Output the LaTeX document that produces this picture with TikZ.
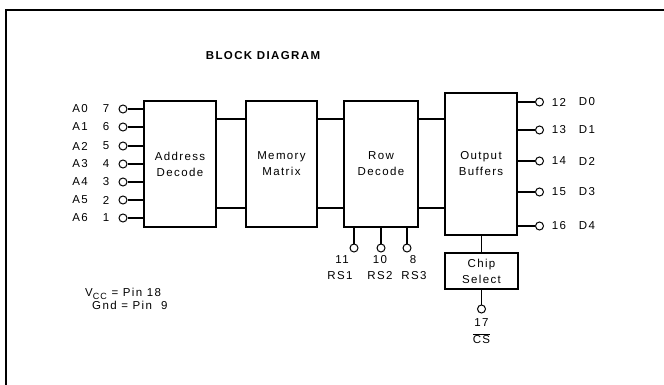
\documentclass[tikz,border=0pt]{standalone}
\usepackage{fontspec}
\setmainfont[LetterSpace=12]{Liberation Sans}
\begin{document}
\begin{tikzpicture}[x=1pt,y=-1pt]
\tikzset{
  txt/.style={font=\fontsize{11.5}{16}\selectfont},
  blk/.style={draw,line width=1.1pt,inner sep=0pt,align=center,txt},
  pinc/.style={circle,draw,line width=1pt,inner sep=0pt,minimum size=8pt},
  wire/.style={line width=1.1pt},
  lab/.style={inner sep=0pt,txt},
  frame/.style={line width=1.8pt}
}
\useasboundingbox (0,0) rectangle (664,385);
% frame
\coordinate (f0) at (5,10);
\coordinate (f1) at (664,10);
\coordinate (f2) at (6,10);
\coordinate (f3) at (6,385);
\draw[frame] (f0) -- (f1);
\draw[frame] (f2) -- (f3);
% title
\node[inner sep=0pt,font=\bfseries\fontsize{11.5}{14}\selectfont] (title) at (263,56) {BLOCK DIAGRAM};
% blocks
\node[blk,minimum width=72pt,minimum height=126pt] (addr) at (180,164) {Address\\Decode};
\node[blk,minimum width=71pt,minimum height=126pt] (mem) at (281.5,164) {Memory\\Matrix};
\node[blk,minimum width=74pt,minimum height=126pt] (row) at (381,164) {Row\\Decode};
\node[blk,minimum width=72pt,minimum height=142pt] (out) at (481,164) {Output\\Buffers};
\node[blk,minimum width=73pt,minimum height=36pt] (cs) at (481.5,271) {Chip\\Select};
% bus lines
\coordinate (u) at (0,119);
\coordinate (l) at (0,208);
\draw[wire] (addr.east |- u) -- (mem.west |- u);
\draw[wire] (addr.east |- l) -- (mem.west |- l);
\draw[wire] (mem.east |- u) -- (row.west |- u);
\draw[wire] (mem.east |- l) -- (row.west |- l);
\draw[wire] (row.east |- u) -- (out.west |- u);
\draw[wire] (row.east |- l) -- (out.west |- l);
% address inputs
\foreach \i/\n/\y in {0/7/109,1/6/127,2/5/146,3/4/164,4/3/182,5/2/200,6/1/218}{
  \node[pinc] (pa\i) at (123,\y) {};
  \draw[wire] (pa\i) -- (addr.west |- pa\i);
  \node[lab] (la\i) at (80,\y) {A\i};
  \node[lab] (na\i) at (106,\y) {\n};
}
% data outputs
\foreach \i/\n/\y in {0/12/102,1/13/130,2/14/161,3/15/192,4/16/226}{
  \node[pinc] (po\i) at (539.5,\y) {};
  \draw[wire] (out.east |- po\i) -- (po\i);
  \node[lab] (no\i) at (559,\y) {\n};
  \node[lab] (lo\i) at (587,\y) {D\i};
}
% row select pins
\foreach \i/\n/\x/\nx/\rx in {1/11/354/342/340,2/10/381/380/380,3/8/407/413/414}{
  \node[pinc] (pr\i) at (\x,248) {};
  \draw[wire] (row.south -| pr\i) -- (pr\i);
  \node[lab] (nr\i) at (\nx,260) {\n};
  \node[lab] (lr\i) at (\rx,276) {RS\i};
}
% chip select
\draw[wire] (out.south -| cs.north) -- (cs.north);
\node[pinc] (pcs) at (481.5,309) {};
\draw[wire] (cs.south) -- (pcs);
\node[lab] (ncs) at (481.5,323) {17};
\node[lab] (lcs) at (481.5,339) {$\overline{\hbox{CS}}$};
% power notes
\node[lab,anchor=west] (vcc) at (85,294) {V\raisebox{-2.5pt}{\fontsize{9}{10}\selectfont CC} = Pin 18};
\node[lab,anchor=west] (gnd) at (92,305) {Gnd = Pin\ \ 9};
\end{tikzpicture}
\end{document}
